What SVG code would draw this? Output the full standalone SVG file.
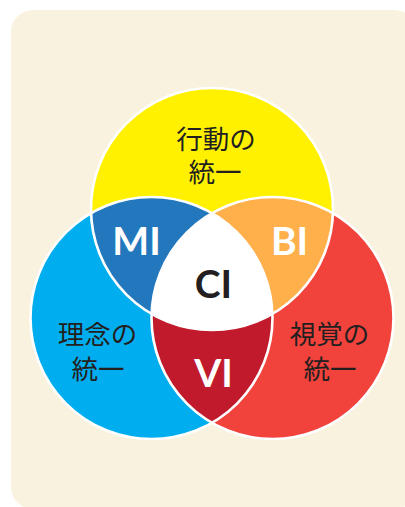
<svg xmlns="http://www.w3.org/2000/svg" width="405" height="507" viewBox="0 0 405 507">
<defs>
<style>
.jp{font-family:"Noto Sans CJK JP","Noto Sans",sans-serif;font-size:26.5px;fill:#231F20;text-anchor:middle;font-weight:400}
.ab{font-family:"Lato","Noto Sans",sans-serif;font-size:39px;font-weight:700;text-anchor:middle}
.w{fill:#FFFFFF}
.d{fill:#231F20}
.ring{fill:none;stroke:#FFFFFF;stroke-width:2.6}
</style>
<clipPath id="cT"><circle cx="212" cy="209" r="121"/></clipPath>
<clipPath id="cL"><circle cx="151.5" cy="318" r="121"/></clipPath>
<clipPath id="cR"><circle cx="272.5" cy="318" r="121"/></clipPath>
</defs>
<rect x="11" y="10" width="405" height="499" rx="22" fill="#F8F2DF"/>
<g id="action">
<circle cx="212" cy="209" r="121" fill="#FFF100"/>
</g>
<g id="philosophy">
<circle cx="151.5" cy="318" r="121" fill="#00AEEF"/>
</g>
<g id="visual">
<circle cx="272.5" cy="318" r="121" fill="#F1433C"/>
</g>
<g id="MI">
<circle cx="151.5" cy="318" r="121" fill="#2277BD" clip-path="url(#cT)"/>
</g>
<g id="BI">
<circle cx="272.5" cy="318" r="121" fill="#FFB04B" clip-path="url(#cT)"/>
</g>
<g id="VI">
<circle cx="272.5" cy="318" r="121" fill="#C01A2C" clip-path="url(#cL)"/>
</g>
<g id="CI">
<g clip-path="url(#cT)"><circle cx="272.5" cy="318" r="121" fill="#FFFFFF" clip-path="url(#cL)"/></g>
</g>
<g id="connectors">
<circle class="ring" cx="212" cy="209" r="121"/>
<circle class="ring" cx="151.5" cy="318" r="121"/>
<circle class="ring" cx="272.5" cy="318" r="121"/>
</g>
<g id="labels">
<text class="jp" x="216" y="149">行動の</text>
<text class="jp" x="215" y="182">統一</text>
<text class="jp" x="97.5" y="344">理念の</text>
<text class="jp" x="98" y="379">統一</text>
<text class="jp" x="329.5" y="344">視覚の</text>
<text class="jp" x="330" y="379">統一</text>
<text class="ab w" x="136.5" y="255">MI</text>
<text class="ab w" x="289.5" y="255">BI</text>
<text class="ab d" x="213.5" y="298">CI</text>
<text class="ab w" x="213.5" y="387">VI</text>
</g>
</svg>
